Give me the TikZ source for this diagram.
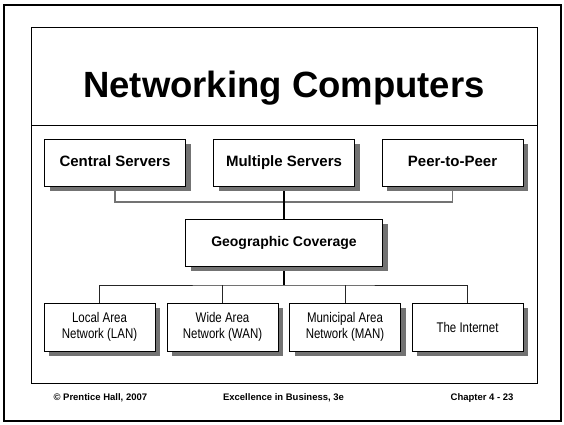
\documentclass[tikz,border=0pt]{standalone}
\usepackage{fontspec}
\setmainfont{Liberation Sans}
\newfontfamily\narrowfont[FakeStretch=0.82]{Liberation Sans}
\usetikzlibrary{positioning, shadows, backgrounds}

\tikzset{
  box/.style={draw=black, fill=white, line width=0.9pt, inner sep=0pt,
    drop shadow={shadow xshift=5pt, shadow yshift=-5pt, opacity=1, fill=black!55}},
  topbox/.style={box, minimum width=141pt, minimum height=47pt, text height=11pt, text depth=3pt,
    font=\bfseries\fontsize{15}{17}\selectfont},
  geobox/.style={box, minimum width=197pt, minimum height=47pt, text height=10pt, text depth=3pt,
    font=\bfseries\fontsize{14}{16}\selectfont},
  lanbox/.style={box, minimum width=111pt, minimum height=48pt, align=center, font=\narrowfont\fontsize{14}{16}\selectfont},
  bus/.style={draw=black!55, line width=1.6pt},
  trunk/.style={draw=black, line width=2.2pt},
  twig/.style={draw=black!85, line width=0.8pt},
  foot/.style={font=\bfseries\fontsize{9.5}{11}\selectfont}
}

\begin{document}
\begin{tikzpicture}[x=1pt, y=-1pt]
\useasboundingbox (0,0) rectangle (564,424);

%frames
\draw[line width=2pt] (3.5,4.5) rectangle (561,421);
\draw[line width=0.9pt] (31,27) rectangle (537,383);
\draw[line width=0.9pt] (31,125) -- (537,125);

\node[anchor=base, font=\bfseries\fontsize{36.5}{42}\selectfont] (title) at (284,97) {Networking Computers};

\node[topbox] (S1) at (115,162.5) {Central Servers};
\node[topbox] (S2) at (284,162.5) {Multiple Servers};
\node[topbox] (S3) at (452.5,162.5) {Peer-to-Peer};

\node[geobox] (G) at (284,242.5) {Geographic Coverage};

\node[lanbox] (N1) at (99.5,327) {Local Area\\Network (LAN)};
\node[lanbox] (N2) at (222.5,327) {Wide Area\\Network (WAN)};
\node[lanbox] (N3) at (345,327) {Municipal Area\\Network (MAN)};
\node[lanbox] (N4) at (467.5,327) {The Internet};

\coordinate (J1) at (284,202);
\coordinate (J2) at (284,285);

\begin{pgfonlayer}{background}
\draw[bus] (S1.south) |- (J1) -| (S3.south);
\draw[trunk] (S2.south) -- (G.north);
\draw[twig] (N1.north) |- (J2) -| (N4.north);
\draw[twig] (N2.north) -- (N2.north |- J2);
\draw[twig] (N3.north) -- (N3.north |- J2);
\draw[trunk] (G.south) -- (J2);
\end{pgfonlayer}

%footer
\node[foot, anchor=base west] (F1) at (50,400) {\textcopyright\ Prentice Hall, 2007};
\node[foot, anchor=base] (F2) at (283.5,400) {Excellence in Business, 3e};
\node[foot, anchor=base east] (F3) at (517,400) {Chapter 4 - 23};
\end{tikzpicture}
\end{document}
